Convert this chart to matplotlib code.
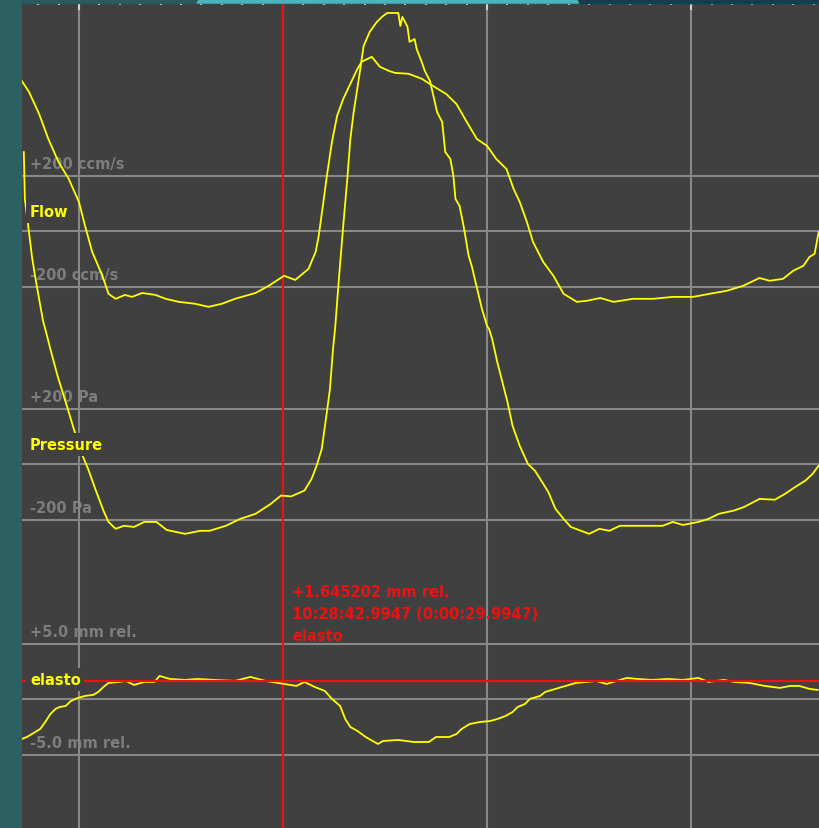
import matplotlib.pyplot as plt
from matplotlib.patches import Rectangle, Polygon
import numpy as np

# === Data (time in ms relative to cursor 10:28:42.9947) ===
flow_t = [-256, -249, -239, -230, -220, -210, -200, -194, -187, -177,
          -171, -164, -155, -148, -138, -125, -115, -102, -86, -73,
          -60, -47, -27, -14, 1, 12, 25, 32, 35, 40,
          43, 48, 53, 59, 66, 73, 77, 87, 95, 104,
          110, 123, 136, 147, 160, 170, 180, 190, 200, 209,
          219, 226, 232, 239, 245, 255, 265, 275, 288, 298,
          311, 324, 343, 363, 382, 402, 418, 435, 451, 467,
          477, 490, 500, 510, 516, 521, 525]
flow_v = [542, 503, 423, 333, 250, 189, 106, 20, -74, -160,
          -225, -243, -229, -236, -222, -229, -243, -254, -261, -272,
          -261, -243, -222, -196, -160, -175, -135, -74, -16, 117,
          200, 323, 416, 477, 532, 586, 611, 629, 593, 578,
          571, 568, 550, 524, 495, 459, 395, 333, 308, 261,
          225, 153, 106, 34, -38, -110, -160, -225, -254, -250,
          -240, -254, -243, -243, -236, -236, -225, -214, -196, -168,
          -178, -171, -142, -124, -92, -81, -2]

pres_t = [-254, -253, -249, -246, -243, -239, -235, -233, -228, -221,
          -213, -206, -198, -191, -184, -176, -171, -164, -156, -146,
          -136, -124, -114, -96, -81, -72, -56, -42, -27, -12,
          -2, 8, 21, 28, 33, 38, 43, 46, 49, 51,
          55, 59, 63, 66, 69, 72, 75, 79, 85, 92,
          97, 102, 113, 115, 117, 122, 124, 129, 131, 136,
          139, 144, 147, 151, 156, 159, 164, 167, 169, 173,
          177, 182, 185, 188, 191, 195, 200, 202, 205, 210,
          215, 220, 225, 232, 240, 247, 252, 260, 267, 275,
          282, 292, 300, 310, 320, 330, 342, 357, 372, 382,
          392, 407, 417, 427, 442, 452, 467, 482, 492, 502,
          512, 519, 525]
pres_v = [1126, 957, 838, 748, 679, 596, 514, 488, 416, 320,
          225, 140, 45, -16, -88, -166, -207, -232, -221, -225,
          -207, -207, -236, -250, -239, -239, -221, -196, -178, -142,
          -112, -115, -94, -52, -4, 56, 189, 272, 416, 488,
          679, 859, 1029, 1173, 1263, 1335, 1407, 1508, 1559, 1595,
          1613, 1627, 1627, 1580, 1613, 1577, 1523, 1533, 1497, 1450,
          1418, 1382, 1335, 1270, 1234, 1126, 1101, 1040, 957, 932,
          859, 751, 715, 668, 622, 560, 499, 488, 452, 369,
          297, 225, 139, 67, 2, -23, -52, -99, -160, -196,
          -225, -239, -250, -232, -239, -221, -221, -221, -221, -207,
          -218, -207, -196, -178, -166, -153, -124, -127, -106, -81,
          -58, -34, -4]

el_t = [-256, -251, -246, -238, -233, -228, -223, -219, -213, -208,
        -201, -194, -186, -181, -176, -171, -161, -154, -146, -136,
        -126, -121, -111, -96, -84, -67, -47, -32, -17, 1,
        13, 21, 31, 41, 48, 56, 61, 66, 73, 81,
        93, 98, 113, 128, 143, 150, 163, 170, 175, 183,
        193, 203, 210, 218, 225, 230, 237, 242, 252, 257,
        267, 277, 287, 297, 307, 317, 327, 337, 347, 362,
        377, 392, 407, 417, 432, 442, 457, 472, 487, 497,
        506, 516, 524]
el_v = [-3.56, -3.38, -3.11, -2.66, -2.03, -1.31, -0.86, -0.68, -0.59, -0.14,
        0.14, 0.32, 0.41, 0.68, 1.13, 1.49, 1.58, 1.67, 1.31, 1.58,
        1.58, 2.12, 1.85, 1.76, 1.85, 1.76, 1.67, 2.03, 1.67, 1.40,
        1.22, 1.58, 1.13, 0.77, 0.05, -0.59, -1.76, -2.48, -2.84, -3.38,
        -4.01, -3.74, -3.65, -3.83, -3.83, -3.38, -3.38, -3.11, -2.66, -2.21,
        -2.03, -1.94, -1.76, -1.49, -1.13, -0.68, -0.41, 0.05, 0.32, 0.68,
        0.95, 1.22, 1.49, 1.58, 1.67, 1.40, 1.67, 1.94, 1.85, 1.76,
        1.85, 1.76, 1.94, 1.58, 1.76, 1.58, 1.49, 1.22, 1.04, 1.22,
        1.22, 0.95, 0.86]

cursor_value = 1.645202
cursor_lines = ['+1.645202 mm rel.', '10:28:42.9947 (0:00:29.9947)', 'elasto']

BG = '#404040'
GRID = '#888888'
YEL = '#ffff00'
RED = '#ee1111'
GRAY_TXT = '#7d7d7d'

W, H = 819, 829
fig = plt.figure(figsize=(W / 100, H / 100), dpi=100, facecolor='#2b6163')

# window frame strips at the top
fig.patches.append(Rectangle((22 / W, (H - 4) / H), 1, 4 / H, transform=fig.transFigure,
                             color='#2a5a60', zorder=0))
fig.patches.append(Polygon([(200 / W, 1), (575 / W, 1), (579 / W, (H - 4) / H), (197 / W, (H - 4) / H)],
                           closed=True, transform=fig.transFigure, color='#4cb3bf', zorder=0))
fig.patches.append(Rectangle((579 / W, (H - 4) / H), 1, 4 / H, transform=fig.transFigure,
                             color='#133f4b', zorder=0))

rect = [22 / W, 0, 797 / W, 825 / H]
ax_bg = fig.add_axes(rect)
ax_p = fig.add_axes(rect, sharex=ax_bg)
ax_f = fig.add_axes(rect, sharex=ax_bg)
ax_e = fig.add_axes(rect, sharex=ax_bg)

ax_bg.set_facecolor(BG)
ax_bg.set_xlim(-255.8, 525.3)
ax_bg.set_ylim(0, 1)
for s in ax_bg.spines.values():
    s.set_visible(False)
ax_bg.set_yticks([])
ax_bg.set_xticks([-200, 0, 200, 400])
ax_bg.set_xticks(np.arange(-240, 525, 20), minor=True)
ax_bg.tick_params(axis='x', which='both', top=True, bottom=False, labelbottom=False,
                  direction='in', color='#d0d0d0')
ax_bg.tick_params(axis='x', which='major', length=5, width=1.5)
ax_bg.tick_params(axis='x', which='minor', length=1.5, width=1.5)
ax_bg.grid(True, axis='x', color=GRID, lw=1.5)

ax_f.set_ylim(-2150, 823)
ax_p.set_ylim(-1310, 1663)
ax_e.set_ylim(-11.58, 62.75)
for a in (ax_p, ax_f, ax_e):
    a.axis('off')

# horizontal grid lines of each channel (drawn on the background axes)
for a, levels in ((ax_f, [200, 0, -200]), (ax_p, [200, 0, -200]), (ax_e, [5, 0, -5])):
    for v in levels:
        ax_bg.plot([0, 1], [v, v], transform=a.get_yaxis_transform(), color=GRID, lw=1.5, zorder=1)

# cursor
ax_bg.axvline(0, color=RED, lw=1.5, zorder=2)

ax_p.plot(pres_t, pres_v, color=YEL, lw=1.3)
ax_f.plot(flow_t, flow_v, color=YEL, lw=1.3)
ax_e.plot(el_t, el_v, color=YEL, lw=1.3, zorder=2)
ax_e.axhline(cursor_value, color=RED, lw=1.6, zorder=3)

# scale labels (under the traces)
scale_labels = [(ax_f, 200, '+200 ccm/s'), (ax_f, -200, '-200 ccm/s'),
                (ax_p, 200, '+200 Pa'), (ax_p, -200, '-200 Pa'),
                (ax_e, 5, '+5.0 mm rel.'), (ax_e, -5, '-5.0 mm rel.')]
for a, v, s in scale_labels:
    ax_bg.annotate(s, xy=(0.01, v), xycoords=a.get_yaxis_transform(), xytext=(0, 12),
                   textcoords='offset pixels', va='center', ha='left', fontsize=10.5,
                   fontweight='bold', color=GRAY_TXT, zorder=1.5)

# channel names (boxed, over everything)
for a, s in ((ax_f, 'Flow'), (ax_p, 'Pressure'), (ax_e, 'elasto')):
    ax_e.annotate(s, xy=(0.01, 0), xycoords=a.get_yaxis_transform(), xytext=(0, 20),
                  textcoords='offset pixels', va='center', ha='left', fontsize=10.5,
                  fontweight='bold', color=YEL, zorder=5,
                  bbox=dict(boxstyle='square,pad=0.25', fc=BG, ec='none'))

# cursor readout
for i, s in enumerate(cursor_lines):
    ax_e.annotate(s, xy=(0, 0.2861), xycoords=ax_bg.get_xaxis_transform(), xytext=(9, -22 * i),
                  textcoords='offset pixels', va='center', ha='left', fontsize=10.5,
                  fontweight='bold', color=RED, zorder=5)

plt.savefig('out.png', dpi=100, facecolor=fig.get_facecolor())
